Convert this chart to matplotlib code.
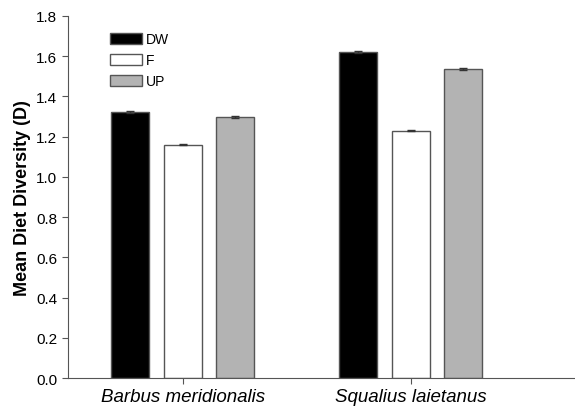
import matplotlib
matplotlib.use("Agg")
import matplotlib.pyplot as plt
from matplotlib.patches import Patch
import numpy as np

plt.rcParams["font.family"] = ["Liberation Sans", "DejaVu Sans"]

species = ["Barbus meridionalis", "Squalius laietanus"]
groups = ["DW", "F", "UP"]
dw = [1.322, 1.622]
f = [1.160, 1.230]
up = [1.298, 1.535]
dw_err = [0.004, 0.006]
f_err = [0.003, 0.004]
up_err = [0.005, 0.006]

colors = ["#000000", "#ffffff", "#b3b3b3"]

fig = plt.figure(figsize=(5.75, 4.14), dpi=100)
ax = fig.add_axes([0.118, 0.0845, 0.882, 0.8745])
x = np.arange(len(species))
w = 0.167
offs = [-0.23, 0.0, 0.23]
for vals, errs, c, off, lab in zip([dw, f, up], [dw_err, f_err, up_err], colors, offs, groups):
    ax.bar(x + off, vals, width=w, color=c, edgecolor="#555555", linewidth=1.0, label=lab,
           yerr=errs, error_kw=dict(ecolor="#333333", elinewidth=1, capsize=3, capthick=1))

ax.set_xlim(-0.504, 1.72)
ax.set_ylim(0, 1.8)
ax.set_yticks(np.arange(0, 1.81, 0.2))
ax.set_yticklabels([f"{v:.1f}" for v in np.arange(0, 1.81, 0.2)], fontsize=11)
ax.set_xticks(x)
ax.set_xticklabels(species, fontsize=13.5, style="italic")
ax.set_ylabel("Mean Diet Diversity (D)", fontsize=13, fontweight="bold")
for s in ["top", "right"]:
    ax.spines[s].set_visible(False)
for s in ["left", "bottom"]:
    ax.spines[s].set_color("#555555")
ax.tick_params(direction="out", length=4, color="#555555")

handles = [Patch(facecolor=c, edgecolor="#555555", label=g) for c, g in zip(colors, groups)]
ax.legend(handles=handles, loc="upper left", bbox_to_anchor=(0.072, 0.97), frameon=False,
          fontsize=10, handlelength=2.3, handleheight=0.9, handletextpad=0.3, labelspacing=0.5,
          borderaxespad=0)

fig.savefig("out.png", dpi=100)
